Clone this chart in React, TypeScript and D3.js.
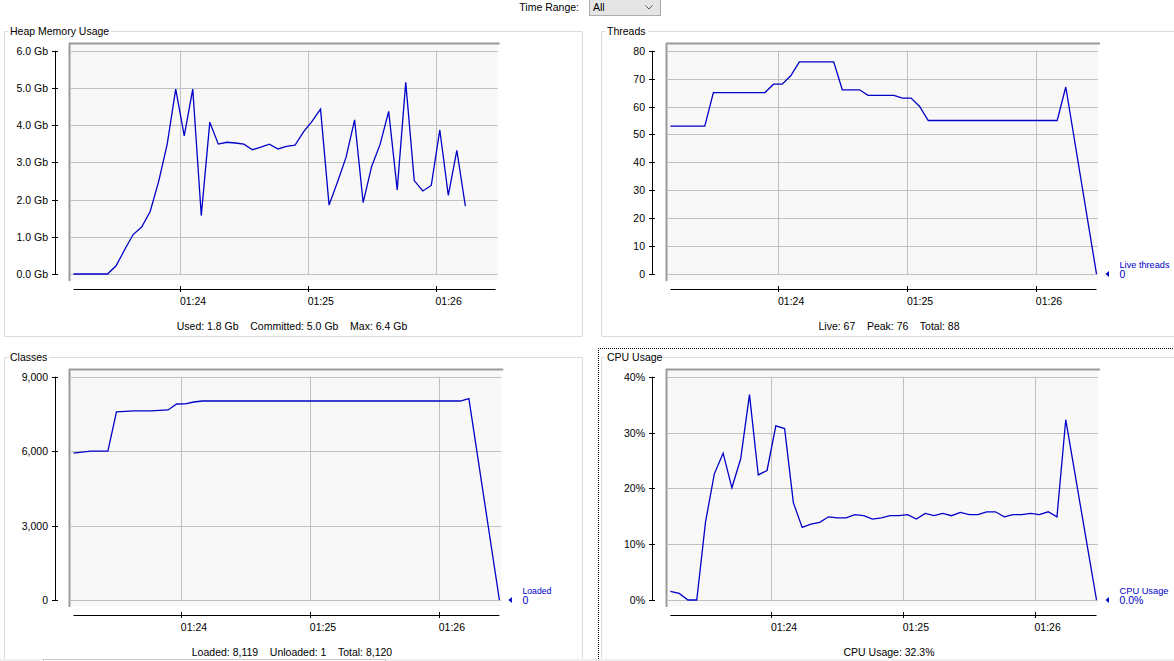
import React from "react";
import * as d3 from "d3";

const WIDTH = 1174;
const HEIGHT = 661;
const FONT = "Tahoma, 'Liberation Sans', Arial, sans-serif";
const FONT_SIZE = 10.5;
const LINE_COLOR = "#0000c8";

// times are seconds after 01:23:00, samples every 4 s
const SAMPLE_SECONDS = 4;
const END_SECONDS = 208;
const timeTicks = [60, 120, 180];
const timeLabels = ["01:24", "01:25", "01:26"];

const heapStart = 9.8;
const heapGb = [
  0, 0, 0, 0, 0, 0.22, 0.65, 1.06, 1.26, 1.68, 2.49, 3.49, 4.97, 3.71, 4.97, 1.57,
  4.08, 3.49, 3.54, 3.52, 3.49, 3.34, 3.41, 3.49, 3.36, 3.43, 3.46, 3.82, 4.1, 4.43,
  1.85, 2.48, 3.14, 4.14, 1.92, 2.89, 3.49, 4.37, 2.26, 5.15, 2.51, 2.23, 2.38, 3.87,
  2.11, 3.32, 1.82,
];
const heapTicks = [0, 1, 2, 3, 4, 5, 6];

const threadsStart = 9.7;
const liveThreads = [
  53, 53, 53, 53, 53, 65, 65, 65, 65, 65, 65, 65, 68, 68, 71, 76, 76, 76, 76, 76, 66,
  66, 66, 64, 64, 64, 64, 63, 63, 60, 55, 55, 55, 55, 55, 55, 55, 55, 55, 55, 55, 55,
  55, 55, 55, 55, 67,
];
const threadTicks = [0, 10, 20, 30, 40, 50, 60, 70, 80];

const classesStart = 9.8;
const loadedClasses = [
  5920, 5960, 6000, 6000, 6000, 7580, 7600, 7620, 7620, 7620, 7640, 7660, 7900, 7905,
  7980, 8020, 8020, 8020, 8020, 8020, 8020, 8020, 8020, 8020, 8020, 8020, 8020, 8020,
  8020, 8020, 8020, 8020, 8020, 8020, 8020, 8020, 8020, 8020, 8020, 8020, 8020, 8020,
  8020, 8020, 8020, 8020, 8119,
];
const classTicks = [0, 3000, 6000, 9000];

const cpuStart = 14.0;
const cpuPercent = [
  1.55, 1.19, 0, 0, 14.0, 22.6, 26.3, 20.1, 25.3, 36.8, 22.4, 23.2, 31.2, 30.7, 17.4,
  13.0, 13.6, 13.9, 14.9, 14.7, 14.7, 15.3, 15.1, 14.5, 14.7, 15.1, 15.1, 15.3, 14.5,
  15.5, 15.1, 15.5, 15.1, 15.7, 15.3, 15.3, 15.8, 15.8, 14.9, 15.3, 15.3, 15.5, 15.3,
  15.8, 14.9, 32.3,
];
const cpuTicks = [0, 10, 20, 30, 40];

interface PanelProps {
  ox: number;
  oy: number;
  title: string;
  titleGap: number;
  boxWidth: number;
  boxHeight: number;
  start: number;
  values: number[];
  endValue?: number;
  x0: number;
  x1: number;
  plotRight: number;
  yTicks: number[];
  yFormat: (v: number) => string;
  legend?: [string, string];
  legendWidth?: number;
  stats: string;
}

function Panel(p: PanelProps) {
  const x = d3.scaleLinear().domain([p.start, END_SECONDS]).range([p.x0, p.x1]);
  const y = d3
    .scaleLinear()
    .domain([p.yTicks[0], p.yTicks[p.yTicks.length - 1]])
    .range([274, 50.7]);
  const pts: [number, number][] = p.values.map((v, i) => [p.start + i * SAMPLE_SECONDS, v]);
  if (p.endValue !== undefined) pts.push([END_SECONDS, p.endValue]);
  const line = d3
    .line<[number, number]>()
    .x((d) => x(d[0]))
    .y((d) => y(d[1]));
  const yTop = y(p.yTicks[p.yTicks.length - 1]);
  const yBottom = y(p.yTicks[0]);
  const snap = (v: number) => Math.round(v) + 0.5;

  return (
    <g transform={`translate(${p.ox},${p.oy})`} fontFamily={FONT} fontSize={FONT_SIZE}>
      {/* titled border */}
      <path
        d={`M8,31.5 H4.5 V${31.5 + p.boxHeight} H${4.5 + p.boxWidth} V31.5 H${p.titleGap}`}
        fill="none"
        stroke="#dcdcdc"
      />
      <text x={10} y={35} fill="#000">
        {p.title}
      </text>

      {/* plot background and grid */}
      <rect x={70} y={44} width={p.plotRight - 70} height={236} fill="#f8f8f8" />
      {p.yTicks.map((t) => (
        <line key={"h" + t} x1={71} x2={p.plotRight} y1={snap(y(t))} y2={snap(y(t))} stroke="#c0c0c0" />
      ))}
      {timeTicks.map((t) => (
        <line key={"v" + t} x1={snap(x(t))} x2={snap(x(t))} y1={yTop} y2={yBottom} stroke="#c0c0c0" />
      ))}
      <line x1={69} x2={p.plotRight + 2} y1={43.5} y2={43.5} stroke="#9a9a9a" strokeWidth={2} />
      <line x1={69.5} x2={69.5} y1={43} y2={281} stroke="#9a9a9a" strokeWidth={2} />

      {/* series */}
      <path d={line(pts) ?? ""} fill="none" stroke={LINE_COLOR} strokeWidth={1.3} />

      {/* y axis */}
      <line x1={55.5} x2={55.5} y1={yTop} y2={yBottom} stroke="#000" />
      {p.yTicks.map((t) => (
        <g key={"yt" + t}>
          <line x1={52} x2={58} y1={snap(y(t))} y2={snap(y(t))} stroke="#000" />
          <text x={48} y={y(t) + 4} textAnchor="end" fill="#000">
            {p.yFormat(t)}
          </text>
        </g>
      ))}

      {/* time axis */}
      <line x1={p.x0} x2={p.x1} y1={289.5} y2={289.5} stroke="#000" />
      {timeTicks.map((t, i) => (
        <g key={"xt" + t}>
          <line x1={snap(x(t))} x2={snap(x(t))} y1={286} y2={292} stroke="#000" />
          <text x={x(t) - 0.5} y={305} fill="#000">
            {timeLabels[i]}
          </text>
        </g>
      ))}

      {p.legend && (
        <g fill={LINE_COLOR}>
          <path d={`M${p.x1 + 9},${yBottom} L${p.x1 + 12.5},${yBottom - 3} L${p.x1 + 12.5},${yBottom + 3} Z`} />
          <text
            x={p.x1 + 23}
            y={yBottom - 6.5}
            fontSize={9.5}
            textLength={p.legendWidth}
            lengthAdjust="spacingAndGlyphs"
          >
            {p.legend[0]}
          </text>
          <text x={p.x1 + 23} y={yBottom + 3.5}>
            {p.legend[1]}
          </text>
        </g>
      )}

      <text x={292} y={330} textAnchor="middle" fill="#000" style={{ whiteSpace: "pre" }}>
        {p.stats}
      </text>
    </g>
  );
}

export default function App() {
  return (
    <svg
      width={WIDTH}
      height={HEIGHT}
      viewBox={`0 0 ${WIDTH} ${HEIGHT}`}
      style={{ position: "fixed", left: 0, top: 0, background: "#fff" }}
    >
      <rect width={WIDTH} height={HEIGHT} fill="#fff" />

      {/* time range selector */}
      <g fontFamily={FONT} fontSize={FONT_SIZE}>
        <text x={579} y={11} textAnchor="end" fill="#000">
          Time Range:
        </text>
        <rect x={589.5} y={-0.5} width={71} height={16} fill="#e5e5e5" stroke="#adadad" />
        <text x={593} y={11} fill="#000">
          All
        </text>
        <polyline points="645.5,5.5 649,9 652.5,5.5" fill="none" stroke="#555" />
      </g>

      <Panel
        ox={0}
        oy={0}
        title="Heap Memory Usage"
        titleGap={111}
        boxWidth={578}
        boxHeight={305}
        start={heapStart}
        values={heapGb}
        x0={73.5}
        x1={495.6}
        plotRight={497.5}
        yTicks={heapTicks}
        yFormat={(v) => `${v.toFixed(1)} Gb`}
        stats={"Used: 1.8 Gb    Committed: 5.0 Gb    Max: 6.4 Gb"}
      />
      <Panel
        ox={597}
        oy={0}
        title="Threads"
        titleGap={51}
        boxWidth={620}
        boxHeight={305}
        start={threadsStart}
        values={liveThreads}
        endValue={0}
        x0={73.4}
        x1={499.5}
        plotRight={501}
        yTicks={threadTicks}
        yFormat={(v) => `${v}`}
        legend={["Live threads", "0"]}
        legendWidth={50}
        stats={"Live: 67    Peak: 76    Total: 88"}
      />
      <Panel
        ox={0}
        oy={326}
        title="Classes"
        titleGap={49}
        boxWidth={578}
        boxHeight={400}
        start={classesStart}
        values={loadedClasses}
        endValue={0}
        x0={73.5}
        x1={499.4}
        plotRight={501.3}
        yTicks={classTicks}
        yFormat={(v) => d3.format(",")(v)}
        legend={["Loaded", "0"]}
        legendWidth={29}
        stats={"Loaded: 8,119    Unloaded: 1    Total: 8,120"}
      />
      <Panel
        ox={597}
        oy={326}
        title="CPU Usage"
        titleGap={65}
        boxWidth={620}
        boxHeight={400}
        start={cpuStart}
        values={cpuPercent}
        endValue={0}
        x0={73.4}
        x1={499.5}
        plotRight={501}
        yTicks={cpuTicks}
        yFormat={(v) => `${v}%`}
        legend={["CPU Usage", "0.0%"]}
        legendWidth={49}
        stats={"CPU Usage: 32.3%"}
      />

      {/* focus rectangle around the CPU panel */}
      <path d="M598.5,661 V348.5 H1174" fill="none" stroke="#000" strokeDasharray="1,1" />

      {/* bottom strip */}
      <rect x={0} y={659} width={WIDTH} height={2} fill="#f0f0f0" />
      <rect x={43.5} y={659.5} width={342} height={3} fill="#fff" stroke="#c8c8c8" />
    </svg>
  );
}
